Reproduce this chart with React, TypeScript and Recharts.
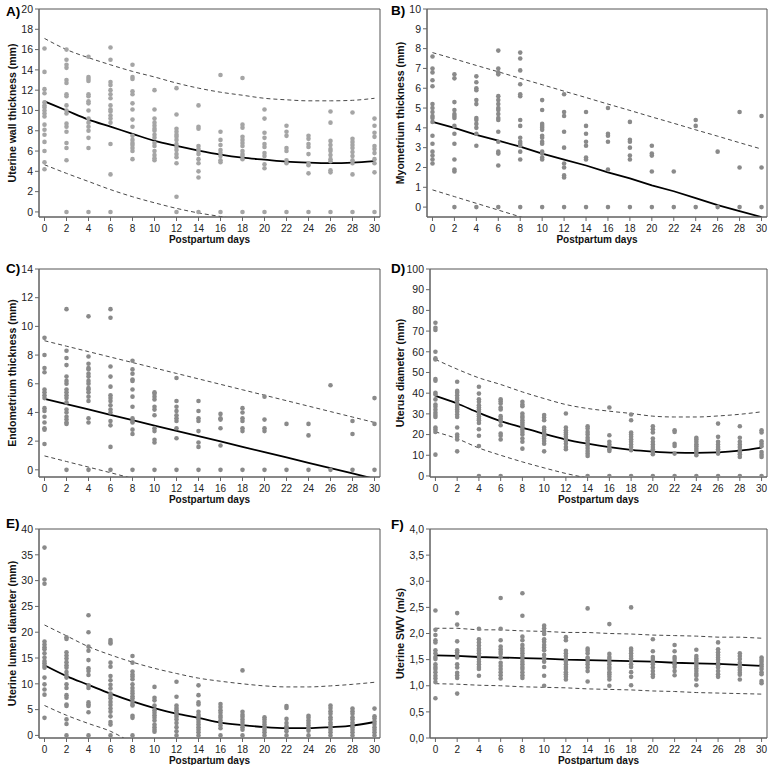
import { ComposedChart, Scatter, Line, XAxis, YAxis, ReferenceArea } from 'recharts';

const days = [0, 2, 4, 6, 8, 10, 12, 14, 16, 18, 20, 22, 24, 26, 28, 30];
const xTicks = days;

// A) uterine wall thickness (mm), one list per day
const wallPts: number[][] = [
    [16.1, 13.8, 12.1, 11.7, 10.8, 10.5, 10.3, 10.0, 9.7, 9.4, 8.6, 8.1, 7.6, 6.9, 6.0, 4.9, 4.2],
    [16.0, 15.0, 14.5, 14.2, 13.0, 12.7, 11.6, 11.4, 10.5, 10.0, 9.7, 8.7, 8.4, 7.9, 6.8, 6.3, 5.1, 0],
    [15.3, 13.3, 13.1, 12.9, 11.6, 11.4, 10.9, 10.7, 10.0, 9.2, 8.8, 8.4, 8.0, 7.3, 6.3, 0],
    [16.2, 15.0, 12.8, 12.5, 12.0, 11.6, 11.2, 10.5, 10.1, 9.9, 9.5, 9.2, 8.8, 6.7, 3.7, 0],
    [14.5, 13.3, 13.1, 11.9, 11.6, 10.7, 10.1, 9.1, 8.4, 7.5, 7.1, 6.8, 6.6, 6.3, 6.0, 5.2],
    [12.0, 10.1, 9.2, 8.8, 8.5, 8.2, 8.0, 7.6, 7.3, 6.8, 6.5, 6.0, 5.6, 5.3, 5.1],
    [12.2, 9.6, 8.2, 7.9, 7.6, 7.4, 7.1, 6.7, 6.4, 6.1, 5.7, 5.4, 4.8, 1.5, 0],
    [10.5, 8.4, 8.2, 6.5, 6.2, 6.0, 5.7, 5.2, 4.8, 4.0, 3.4, 0],
    [13.5, 7.9, 7.1, 6.6, 6.1, 5.8, 5.5, 5.1, 4.9, 0],
    [13.2, 8.6, 8.3, 7.4, 7.1, 6.8, 6.5, 6.0, 5.7, 5.5, 5.2, 0],
    [10.1, 9.2, 7.8, 7.3, 6.7, 6.4, 5.8, 5.5, 4.7, 4.3, 0],
    [8.5, 7.9, 7.5, 6.3, 6.0, 5.1, 4.8, 0],
    [7.5, 7.2, 6.7, 6.4, 5.7, 4.8, 4.6, 3.8, 0],
    [9.9, 8.8, 7.0, 6.6, 6.2, 6.0, 5.6, 5.2, 5.0, 4.1, 3.9, 0],
    [9.8, 7.2, 6.9, 6.6, 6.3, 5.9, 5.5, 5.1, 4.8, 3.7, 0],
    [9.2, 8.5, 7.8, 7.4, 6.5, 6.2, 5.8, 5.2, 4.8, 3.9, 0],
];
const wallFit = [10.9, 10.0, 9.1, 8.4, 7.7, 7.0, 6.5, 6.05, 5.65, 5.35, 5.15, 4.95, 4.85, 4.8, 4.85, 5.0];
const wallUp = [17.1, 16.0, 15.2, 14.5, 13.85, 13.3, 12.7, 12.2, 11.8, 11.5, 11.2, 11.05, 10.95, 10.95, 11.0, 11.2];
const wallLow = [4.65, 3.8, 3.0, 2.2, 1.5, 0.9, 0.35, -0.1, -0.45, -0.8];

// B) myometrium thickness (mm)
const myoPts: number[][] = [
    [7.6, 7.0, 6.8, 6.4, 6.1, 5.2, 5.0, 4.8, 4.6, 4.5, 4.3, 3.6, 3.2, 2.8, 2.6, 2.4, 2.2],
    [6.7, 6.5, 5.3, 4.9, 4.7, 4.6, 4.5, 4.1, 3.7, 3.2, 2.4, 1.9, 1.8, 0],
    [6.6, 6.3, 6.0, 5.9, 5.4, 5.2, 4.5, 4.4, 4.2, 4.0, 3.7, 3.1, 0],
    [7.9, 7.0, 6.8, 6.7, 5.6, 5.4, 5.2, 5.0, 4.9, 4.7, 4.5, 4.4, 3.8, 3.3, 2.8, 2.7, 2.1, 0],
    [7.8, 7.5, 6.9, 6.2, 5.7, 5.6, 4.4, 4.1, 3.5, 3.3, 3.2, 3.1, 2.8, 2.4, 0],
    [5.4, 4.9, 4.2, 4.1, 4.0, 3.9, 3.6, 3.5, 3.3, 3.2, 2.8, 2.7, 2.5, 2.4, 0],
    [5.7, 4.8, 4.6, 3.8, 3.0, 2.2, 2.0, 1.6, 1.5, 0],
    [4.8, 4.1, 3.7, 3.3, 3.1, 2.5, 2.4, 0],
    [5.0, 3.7, 3.6, 3.3, 1.9, 0],
    [4.3, 3.4, 3.3, 3.0, 2.6, 2.4, 0],
    [3.1, 2.7, 2.6, 1.8, 0],
    [1.8, 0],
    [4.4, 4.1, 0],
    [2.8, 0],
    [4.8, 2.0, 0],
    [4.6, 2.0, 0],
];
const myoFit = [4.3, 4.0, 3.65, 3.35, 3.05, 2.7, 2.4, 2.1, 1.75, 1.45, 1.1, 0.8, 0.45, 0.1, -0.2, -0.5];
const myoUp = [7.8, 7.48, 7.15, 6.83, 6.5, 6.18, 5.85, 5.53, 5.2, 4.88, 4.55, 4.23, 3.9, 3.58, 3.25, 2.93];
const myoLow = [0.87, 0.53, 0.19, -0.15, -0.49, -0.83];

// C) endometrium thickness (mm)
const endoPts: number[][] = [
    [9.2, 8.0, 7.1, 6.8, 5.6, 5.4, 5.2, 5.0, 4.3, 4.1, 3.7, 3.3, 2.9, 2.8, 1.8],
    [11.2, 8.3, 7.8, 7.3, 6.5, 6.2, 6.0, 5.6, 5.4, 5.2, 5.0, 4.7, 4.2, 4.0, 3.7, 3.5, 3.3, 3.2, 0],
    [10.7, 7.9, 7.4, 7.1, 7.0, 6.7, 6.5, 6.2, 6.0, 5.7, 5.6, 5.4, 5.1, 4.8, 3.6, 3.3, 0],
    [11.2, 10.6, 7.2, 6.5, 5.8, 5.2, 5.0, 4.8, 4.5, 4.2, 4.0, 3.4, 3.1, 1.6, 0],
    [7.6, 7.0, 6.7, 6.3, 6.2, 5.6, 5.1, 4.4, 3.6, 3.4, 3.3, 2.8, 2.5, 0],
    [5.4, 5.3, 5.1, 4.9, 4.4, 4.2, 3.8, 2.9, 2.7, 2.1, 1.9, 0],
    [6.4, 4.8, 4.4, 4.1, 3.8, 3.6, 3.4, 2.9, 2.2, 0],
    [4.8, 4.1, 3.6, 3.4, 2.7, 1.9, 1.6, 0],
    [3.9, 3.6, 3.5, 2.9, 1.7, 0],
    [4.3, 4.0, 3.6, 3.4, 2.9, 2.7, 0],
    [5.1, 3.5, 2.9, 2.7, 0],
    [3.2, 0],
    [3.2, 2.4, 0],
    [5.9, 0],
    [3.4, 2.5, 0],
    [5.0, 3.2, 0],
];
const endoFit = [4.95, 4.58, 4.21, 3.83, 3.46, 3.09, 2.72, 2.35, 1.98, 1.6, 1.23, 0.86, 0.49, 0.12, -0.25, -0.63];
const endoUp = [9.0, 8.62, 8.24, 7.86, 7.48, 7.1, 6.72, 6.34, 5.96, 5.58, 5.2, 4.82, 4.44, 4.06, 3.68, 3.3];
const endoLow = [0.97, 0.58, 0.19, -0.2, -0.6];

// D) uterus diameter (mm)
const diamPts: number[][] = [
    [74, 71.6, 70.5, 60, 56.8, 56.3, 46.8, 46, 40.2, 39.4, 37, 34.5, 33.4, 32, 30.6, 29.4, 28.5, 23.4, 22.4, 21.3, 10.3],
    [45.5, 41.1, 40.2, 39, 37.7, 36.6, 35, 33.9, 32.9, 32.1, 31, 29.7, 28.5, 23.4, 20, 18.9, 17.6, 11.9],
    [43.1, 39.8, 37.1, 35.8, 34.2, 33.1, 32.1, 31, 29.8, 28.9, 27.7, 26.9, 25.6, 22.6, 19.4, 14.5, 0],
    [37.1, 36.1, 35, 33.1, 32.1, 28.9, 27.7, 26.5, 24.5, 20.5, 19.4, 17.6, 0],
    [35.8, 34.5, 33.7, 30.2, 29, 28.1, 26.9, 25.8, 24.8, 23.7, 22.6, 21.3, 20, 18.1, 16.5, 13.2],
    [29.4, 28.2, 26.9, 23.4, 22.4, 21.3, 20.2, 19.2, 18.1, 16.9, 15.6, 11.9],
    [30.2, 23.4, 22.1, 21, 20, 18.9, 18.1, 16.9, 15.6, 14, 12.9],
    [24, 22.9, 21.3, 20, 18.5, 17.3, 16, 14.8, 13.5, 12.1, 10.8, 9.7, 0],
    [33.1, 19.7, 16.5, 15.2, 14, 12.9, 12.1, 0],
    [29.7, 26.9, 21, 20, 18.9, 17.7, 16.5, 15.2, 14, 12.4, 0],
    [24, 22.6, 21, 18.1, 16.5, 15.2, 14, 12.9, 11.6, 10.5, 0],
    [22.1, 21.3, 15.6, 14.5, 10.8, 0],
    [18.5, 17.6, 16.5, 15.3, 14.4, 13.2, 12.1, 11.1, 10, 0],
    [25.3, 18.9, 16.5, 15.2, 14, 12.9, 11.9, 10.8, 0],
    [24, 18.5, 16.5, 15.2, 14, 12.7, 11.6, 10.5, 9.2, 0],
    [22.1, 21, 16.8, 15.6, 14.4, 11.6, 10.3, 9.2, 0],
];
const diamFit = [38.7, 35, 30.5, 26.5, 23.4, 20.3, 17.6, 15.6, 13.9, 12.6, 11.8, 11.3, 11.2, 11.4, 12.2, 13.7];
const diamUp = [56.3, 51.6, 47.4, 44.2, 40.6, 37.4, 34.5, 32.6, 31.3, 30.2, 28.9, 28.5, 28.5, 29, 29.8, 31];
const diamLow = [21.3, 18, 13.5, 10, 6.8, 3.9, 1.2, -1.0, -3.0];

// E) uterine lumen diameter (mm)
const lumenPts: number[][] = [
    [36.4, 30.2, 29.4, 18.2, 17.6, 17.1, 16.7, 15.9, 15.1, 14.4, 14, 13.5, 13.1, 11.2, 9.9, 8.9, 7.9, 3.4],
    [19, 18.7, 16.1, 15.5, 14.9, 14.2, 13.6, 13.1, 12.3, 11.7, 11.2, 9.9, 9.2, 7.8, 7.3, 6, 5.7, 3.1, 2.2, 0],
    [23.3, 20, 17.2, 16.4, 14.6, 13, 12.5, 11.7, 9.7, 9.2, 6.4, 6, 5.7, 4.5, 0],
    [18.5, 18.1, 17.8, 14.1, 13.3, 11.5, 10.7, 9.8, 9.1, 8.1, 7.7, 7.2, 6.5, 5.9, 5.2, 4.6, 3.7, 2.6, 2.1, 0],
    [15.4, 14.1, 12.4, 11.8, 11.4, 10.9, 9.9, 9.2, 8.6, 8.1, 7.6, 7.2, 6.6, 6.1, 5.8, 3.8, 3.4, 0],
    [9.4, 7.3, 6.8, 5.8, 4.9, 4.4, 3.9, 3.4, 2.9, 2.1, 1.6, 1.1, 0.7],
    [10.4, 7.5, 5.8, 5.3, 4.9, 4.5, 4, 3.6, 3.1, 2.4, 1.6, 0.8, 0],
    [9.7, 7.8, 6.4, 6, 4.6, 4, 3.6, 3.1, 2.6, 2.1, 1.6, 1.1, 0.6, 0],
    [6.1, 5.5, 4.9, 4.4, 3.8, 3.4, 2.9, 2.4, 1.9, 1.4, 0],
    [12.6, 4.6, 4, 3.6, 3.1, 2.6, 2.1, 1.6, 1.1, 0],
    [3.5, 3.1, 2.6, 2.1, 1.6, 1.1, 0.6, 0],
    [5.7, 5.3, 3.2, 2.4, 1.8, 1.3, 0.8, 0],
    [3.8, 3.4, 2.9, 2.4, 1.9, 1.4, 0.9, 0],
    [5.8, 5.3, 4.7, 4.2, 3.5, 3.1, 2.5, 2.1, 1.6, 1.1, 0.6, 0],
    [5.2, 4.7, 4.2, 3.5, 3.1, 2.5, 2.1, 1.6, 1.1, 0.6, 0],
    [5.2, 3.7, 3.3, 2.7, 2.2, 1.6, 1.1, 0.6, 0],
];
const lumenFit = [13.6, 11.5, 9.8, 8.1, 6.6, 5.3, 4.2, 3.4, 2.5, 2.0, 1.6, 1.4, 1.4, 1.6, 1.9, 2.6];
const lumenUp = [21.4, 19.3, 17.2, 15.6, 14.2, 13, 12, 11.1, 10.5, 10, 9.6, 9.4, 9.4, 9.6, 9.9, 10.3];
const lumenLow = [5.8, 3.9, 2.3, 0.8, -1.5];

// F) uterine SWV (m/s)
const swvPts: number[][] = [
    [2.44, 2.07, 1.97, 1.87, 1.83, 1.68, 1.62, 1.55, 1.51, 1.41, 1.36, 1.32, 1.26, 1.19, 1.14, 1.07, 0.76],
    [2.39, 2.17, 1.85, 1.68, 1.64, 1.59, 1.54, 1.41, 1.35, 1.25, 1.2, 1.15, 0.85],
    [2.09, 1.89, 1.83, 1.77, 1.71, 1.67, 1.62, 1.57, 1.51, 1.46, 1.41, 1.36, 1.32, 1.19],
    [2.68, 2.09, 1.87, 1.75, 1.7, 1.65, 1.61, 1.54, 1.44, 1.38, 1.32, 1.26, 1.2, 1.14],
    [2.77, 2.34, 1.94, 1.87, 1.78, 1.72, 1.67, 1.62, 1.57, 1.51, 1.46, 1.41, 1.36, 1.32, 1.26, 1.2, 1.15],
    [2.15, 2.1, 2.04, 1.99, 1.89, 1.84, 1.78, 1.73, 1.68, 1.59, 1.52, 1.46, 1.36, 1.19, 1.0],
    [1.93, 1.87, 1.67, 1.62, 1.57, 1.51, 1.46, 1.41, 1.36, 1.32, 1.26, 1.22, 1.17, 1.12],
    [2.48, 1.71, 1.67, 1.62, 1.54, 1.51, 1.46, 1.41, 1.35, 1.28, 1.08],
    [2.18, 1.61, 1.55, 1.51, 1.46, 1.41, 1.36, 1.32, 1.26, 1.22, 1.17, 1.12, 1.0],
    [2.5, 1.71, 1.67, 1.62, 1.57, 1.52, 1.48, 1.41, 1.36, 1.26, 1.17, 1.01],
    [1.89, 1.66, 1.55, 1.51, 1.46, 1.41, 1.35, 1.28, 1.22, 1.17],
    [1.78, 1.66, 1.55, 1.51, 1.46, 1.41, 1.36, 1.28, 1.2],
    [1.69, 1.57, 1.52, 1.48, 1.43, 1.38, 1.33, 1.28, 1.23, 1.19, 1.12, 1.01],
    [1.83, 1.7, 1.64, 1.59, 1.54, 1.5, 1.44, 1.39, 1.35, 1.28, 1.22, 1.17],
    [1.62, 1.57, 1.51, 1.44, 1.39, 1.35, 1.3, 1.25, 1.21, 1.12],
    [1.54, 1.5, 1.46, 1.41, 1.37, 1.32, 1.26, 1.22, 1.09, 1.05],
];
const swvFit = [1.58, 1.57, 1.55, 1.54, 1.53, 1.52, 1.5, 1.49, 1.48, 1.47, 1.46, 1.44, 1.43, 1.42, 1.4, 1.38];
const swvUp = [2.1, 2.1, 2.07, 2.07, 2.05, 2.04, 2.02, 2.02, 2.0, 1.99, 1.97, 1.96, 1.95, 1.93, 1.93, 1.91];
const swvLow = [1.04, 1.03, 1.01, 1.0, 0.98, 0.97, 0.96, 0.94, 0.93, 0.92, 0.9, 0.89, 0.87, 0.86, 0.85, 0.84];

const ticksA = [0, 2, 4, 6, 8, 10, 12, 14, 16, 18, 20];
const ticksB = [0, 1, 2, 3, 4, 5, 6, 7, 8, 9, 10];
const ticksC = [0, 2, 4, 6, 8, 10, 12, 14];
const ticksD = [0, 10, 20, 30, 40, 50, 60, 70, 80, 90, 100];
const ticksE = [0, 5, 10, 15, 20, 25, 30, 35, 40];
const ticksF = [0, 0.5, 1, 1.5, 2, 2.5, 3, 3.5, 4];

const toPoints = (cols: number[][]) =>
    cols.flatMap((vals, i) => vals.map((v) => ({ x: days[i], y: v })));
const toLine = (vals: number[]) => vals.map((v, i) => ({ x: days[i], y: v }));

interface PanelProps {
    letter: string;
    left: number;
    top: number;
    margin: { top: number; right: number; bottom: number; left: number };
    yWidth: number;
    labelX: number;
    letterTop: number;
    domain: [number, number];
    ticks: number[];
    yLabel: string;
    points: number[][];
    fit: number[];
    upper: number[];
    lower: number[];
    dotColor: string;
    curve: 'monotone' | 'linear';
    comma?: boolean;
}

const Panel = (p: PanelProps) => {
    const dot = (props: any) => <circle cx={props.cx} cy={props.cy} r={2.3} fill={p.dotColor} />;
    const fmt = (v: number) => (p.comma ? v.toFixed(1).replace('.', ',') : String(v));
    return (
        <div style={{ position: 'absolute', left: p.left, top: p.top, width: 385, height: 255 }}>
            <ComposedChart width={385} height={255} margin={p.margin}>
                <XAxis
                    type="number"
                    dataKey="x"
                    domain={[-0.5, 30.5]}
                    ticks={xTicks}
                    interval={0}
                    allowDataOverflow
                    height={27}
                    tickSize={4}
                    tickMargin={4}
                    stroke="#666"
                    tick={{ fontSize: 10, fill: '#222' }}
                    label={{ value: 'Postpartum days', position: 'insideBottom', offset: 1, fontSize: 10, fontWeight: 700, fill: '#111' }}
                />
                <YAxis
                    type="number"
                    dataKey="y"
                    domain={p.domain}
                    ticks={p.ticks}
                    interval={0}
                    allowDataOverflow
                    width={p.yWidth}
                    tickSize={4}
                    tickMargin={2}
                    stroke="#666"
                    tickFormatter={fmt}
                    tick={{ fontSize: 10.5, fill: '#222' }}
                    label={{
                        value: p.yLabel,
                        angle: -90,
                        position: 'insideLeft',
                        offset: p.labelX,
                        fontSize: 10.5,
                        fontWeight: 700,
                        fill: '#111',
                        style: { textAnchor: 'middle' },
                    }}
                />
                <ReferenceArea x1={-0.5} x2={30.5} y1={p.domain[0]} y2={p.domain[1]} fill="none" stroke="#555" strokeWidth={1} />
                <Scatter data={toPoints(p.points)} dataKey="y" shape={dot} isAnimationActive={false} />
                <Line data={toLine(p.upper)} dataKey="y" type={p.curve} stroke="#333" strokeWidth={0.9} strokeDasharray="4 3" dot={false} activeDot={false} isAnimationActive={false} />
                <Line data={toLine(p.lower)} dataKey="y" type={p.curve} stroke="#333" strokeWidth={0.9} strokeDasharray="4 3" dot={false} activeDot={false} isAnimationActive={false} />
                <Line data={toLine(p.fit)} dataKey="y" type={p.curve} stroke="#000" strokeWidth={1.8} dot={false} activeDot={false} isAnimationActive={false} />
            </ComposedChart>
            <div style={{ position: 'absolute', left: 6, top: p.letterTop, fontSize: 13.5, lineHeight: '16px', fontWeight: 700, color: '#000' }}>
                {p.letter}
            </div>
        </div>
    );
};

const App = () => (
    <div style={{ position: 'absolute', left: 0, top: 0, width: 770, height: 765, background: '#fff', fontFamily: '"Liberation Sans", Arial, sans-serif' }}>
        <Panel letter="A)" left={0} top={0} margin={{ top: 9, right: 5, bottom: 11, left: 0 }} yWidth={39} labelX={12} letterTop={4}
            domain={[-0.5, 20]} ticks={ticksA} yLabel="Uterine wall  thickness (mm)" points={wallPts} fit={wallFit} upper={wallUp} lower={wallLow} dotColor="#a5a5a5" curve="monotone" />
        <Panel letter="B)" left={385} top={0} margin={{ top: 9, right: 3, bottom: 11, left: 0 }} yWidth={42} labelX={15} letterTop={3}
            domain={[-0.5, 10]} ticks={ticksB} yLabel="Myometrium thickness (mm)" points={myoPts} fit={myoFit} upper={myoUp} lower={myoLow} dotColor="#8a8a8a" curve="linear" />
        <Panel letter="C)" left={0} top={255} margin={{ top: 14, right: 5, bottom: 6, left: 0 }} yWidth={39} labelX={12} letterTop={6}
            domain={[-0.5, 14]} ticks={ticksC} yLabel="Endometrium thickness (mm)" points={endoPts} fit={endoFit} upper={endoUp} lower={endoLow} dotColor="#8a8a8a" curve="linear" />
        <Panel letter="D)" left={385} top={255} margin={{ top: 14, right: 3, bottom: 6, left: 0 }} yWidth={45} labelX={15} letterTop={6}
            domain={[-0.5, 100]} ticks={ticksD} yLabel="Uterus diameter (mm)" points={diamPts} fit={diamFit} upper={diamUp} lower={diamLow} dotColor="#8a8a8a" curve="monotone" />
        <Panel letter="E)" left={0} top={510} margin={{ top: 19, right: 5, bottom: 0, left: 0 }} yWidth={39} labelX={12} letterTop={6}
            domain={[-0.5, 40]} ticks={ticksE} yLabel="Uterine lumen diameter (mm)" points={lumenPts} fit={lumenFit} upper={lumenUp} lower={lumenLow} dotColor="#8a8a8a" curve="monotone" />
        <Panel letter="F)" left={385} top={510} margin={{ top: 19, right: 3, bottom: 0, left: 0 }} yWidth={45} labelX={15} letterTop={7}
            domain={[0, 4]} ticks={ticksF} yLabel="Uterine SWV (m/s)" points={swvPts} fit={swvFit} upper={swvUp} lower={swvLow} dotColor="#8a8a8a" curve="linear" comma />
    </div>
);

export default App;
